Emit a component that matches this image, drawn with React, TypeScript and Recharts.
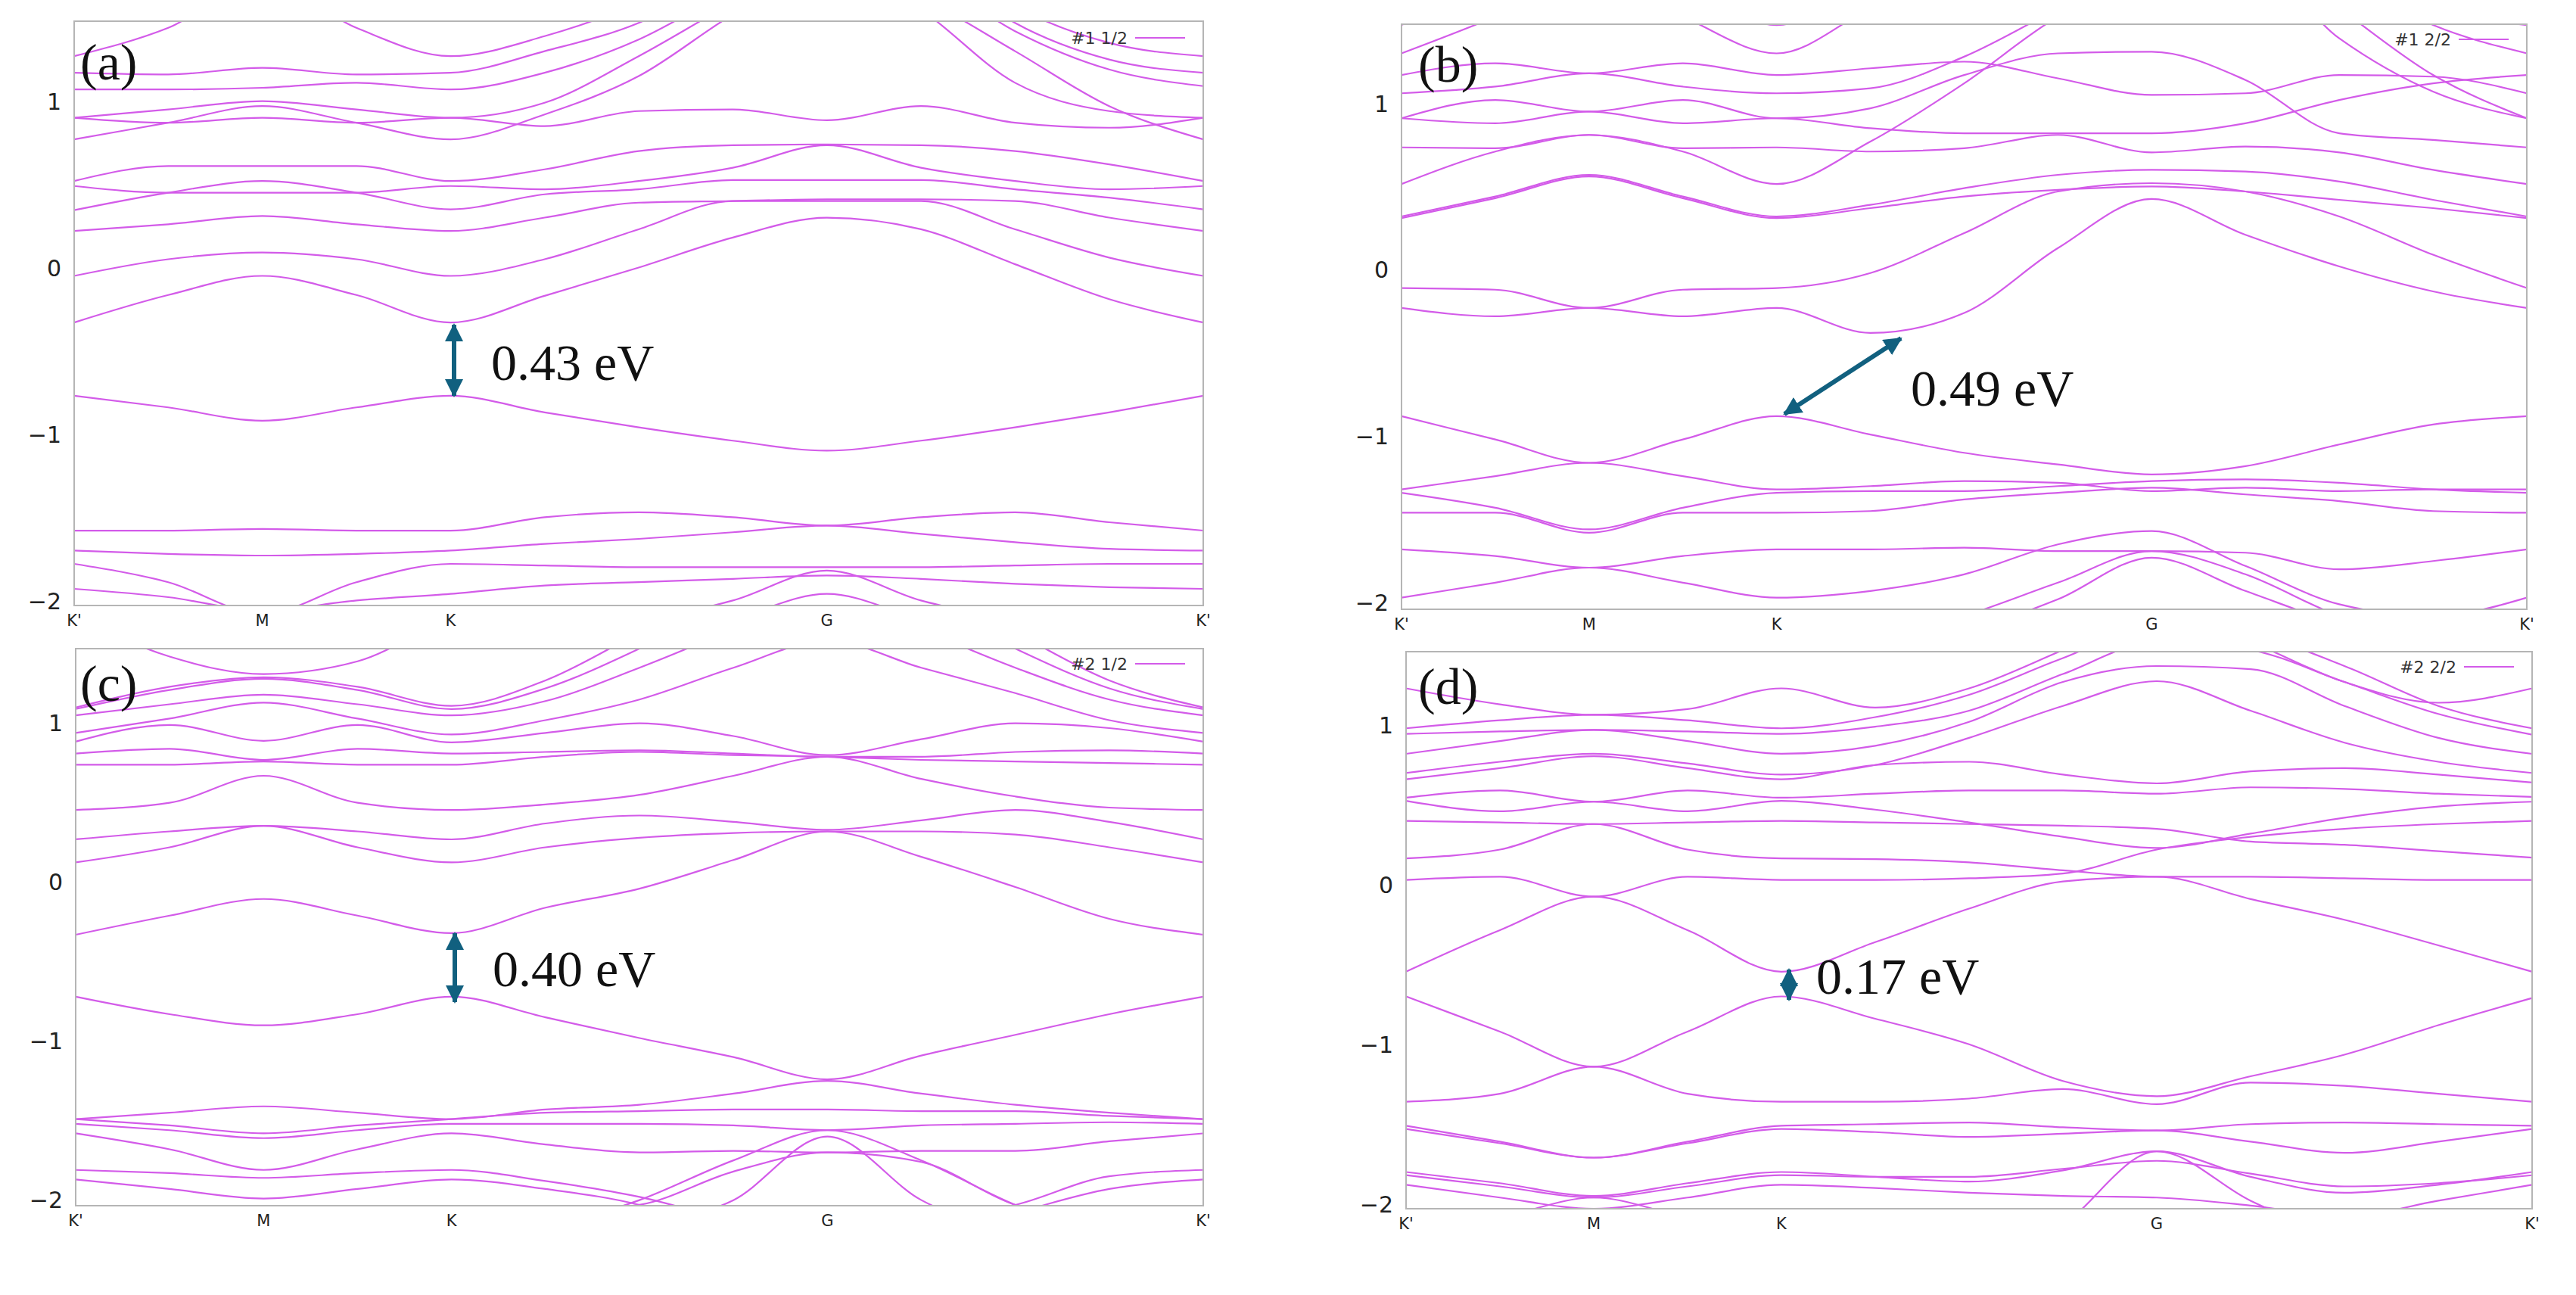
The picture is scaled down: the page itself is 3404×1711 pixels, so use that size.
import { LineChart, Line, XAxis, YAxis } from 'recharts';

// k-path samples: K'=0, M=2, K=4, G=8, K'=12
const kPath = [0, 1, 2, 3, 4, 5, 6, 7, 8, 9, 10, 11, 12];
const kTicks = [0, 2, 4, 8, 12];
const kLabels = ["K'", 'M', 'K', 'G', "K'"];
const eTicks = [-2, -1, 0, 1];

// (a) #1 1/2
const bandsA = [
  [1.30, 1.47, 1.75, 1.47, 1.30, 1.42, 1.62, 1.90, 2.10, 2.00, 1.60, 1.38, 1.30],
  [1.20, 1.19, 1.23, 1.19, 1.20, 1.33, 1.50, 1.80, 2.00, 1.90, 1.50, 1.28, 1.20],
  [1.10, 1.10, 1.11, 1.14, 1.10, 1.20, 1.40, 1.70, 1.95, 1.80, 1.45, 1.22, 1.12],
  [0.93, 0.98, 1.03, 0.98, 0.93, 1.02, 1.30, 1.62, 1.90, 1.58, 1.14, 0.97, 0.93],
  [0.80, 0.90, 1.00, 0.90, 0.80, 0.95, 1.18, 1.55, 1.85, 1.65, 1.33, 1.00, 0.80],
  [0.93, 0.90, 0.93, 0.90, 0.93, 0.88, 0.97, 0.98, 0.915, 1.00, 0.90, 0.87, 0.93],
  [0.55, 0.64, 0.64, 0.64, 0.55, 0.62, 0.73, 0.765, 0.77, 0.765, 0.73, 0.65, 0.55],
  [0.52, 0.48, 0.48, 0.48, 0.52, 0.50, 0.55, 0.63, 0.765, 0.63, 0.55, 0.50, 0.52],
  [0.375, 0.48, 0.55, 0.48, 0.38, 0.47, 0.50, 0.556, 0.556, 0.556, 0.50, 0.45, 0.38],
  [0.25, 0.29, 0.34, 0.29, 0.25, 0.33, 0.42, 0.43, 0.44, 0.44, 0.43, 0.33, 0.25],
  [-0.02, 0.08, 0.12, 0.08, -0.02, 0.08, 0.26, 0.43, 0.43, 0.43, 0.26, 0.09, -0.02],
  [-0.30, -0.135, -0.02, -0.135, -0.30, -0.14, 0.03, 0.21, 0.33, 0.26, 0.05, -0.16, -0.30],
  [-0.74, -0.81, -0.89, -0.81, -0.74, -0.84, -0.93, -1.01, -1.07, -1.01, -0.93, -0.84, -0.74],
  [-1.55, -1.55, -1.54, -1.55, -1.55, -1.47, -1.44, -1.47, -1.52, -1.47, -1.44, -1.50, -1.55],
  [-1.67, -1.69, -1.70, -1.69, -1.67, -1.63, -1.60, -1.56, -1.52, -1.57, -1.62, -1.66, -1.67],
  [-1.75, -1.86, -2.05, -1.86, -1.75, -1.76, -1.77, -1.77, -1.77, -1.77, -1.76, -1.75, -1.75],
  [-1.90, -1.95, -2.03, -1.97, -1.93, -1.88, -1.86, -1.84, -1.82, -1.84, -1.87, -1.89, -1.90],
  [-2.40, -2.40, -2.40, -2.35, -2.30, -2.20, -2.10, -1.97, -1.79, -1.97, -2.10, -2.25, -2.40],
  [-2.50, -2.50, -2.50, -2.45, -2.40, -2.30, -2.20, -2.08, -1.93, -2.08, -2.20, -2.35, -2.50],
];

// (b) #1 2/2
const bandsB = [
  [1.50, 1.75, 2.00, 1.75, 1.50, 1.75, 2.00, 2.20, 2.30, 2.00, 1.60, 1.20, 0.94],
  [1.33, 1.55, 1.80, 1.55, 1.33, 1.60, 1.85, 2.10, 2.20, 2.00, 1.75, 1.58, 1.50],
  [1.20, 1.27, 1.21, 1.27, 1.20, 1.24, 1.28, 1.18, 1.08, 1.09, 1.20, 1.19, 1.09],
  [1.09, 1.13, 1.21, 1.13, 1.09, 1.12, 1.31, 1.60, 1.90, 2.00, 1.80, 1.50, 1.33],
  [0.94, 1.05, 0.98, 1.05, 0.94, 1.00, 1.20, 1.33, 1.34, 1.17, 0.85, 0.81, 0.765],
  [0.94, 0.91, 0.98, 0.91, 0.94, 0.88, 0.85, 0.85, 0.85, 0.91, 1.05, 1.15, 1.20],
  [0.765, 0.76, 0.84, 0.76, 0.765, 0.74, 0.76, 0.84, 0.735, 0.77, 0.735, 0.63, 0.545],
  [0.545, 0.74, 0.84, 0.74, 0.545, 0.80, 1.15, 1.55, 1.80, 1.90, 1.42, 1.10, 0.94],
  [0.35, 0.47, 0.60, 0.47, 0.35, 0.42, 0.52, 0.60, 0.63, 0.62, 0.56, 0.45, 0.35],
  [0.34, 0.46, 0.59, 0.46, 0.34, 0.40, 0.47, 0.51, 0.53, 0.50, 0.45, 0.40, 0.34],
  [-0.08, -0.09, -0.20, -0.09, -0.08, 0.01, 0.25, 0.50, 0.55, 0.50, 0.35, 0.12, -0.08],
  [-0.20, -0.25, -0.20, -0.25, -0.20, -0.35, -0.23, 0.16, 0.455, 0.24, 0.05, -0.10, -0.20],
  [-0.85, -0.99, -1.13, -0.99, -0.85, -0.96, -1.07, -1.14, -1.20, -1.15, -1.02, -0.90, -0.85],
  [-1.29, -1.21, -1.13, -1.21, -1.29, -1.27, -1.24, -1.25, -1.30, -1.28, -1.30, -1.29, -1.29],
  [-1.31, -1.40, -1.53, -1.40, -1.31, -1.30, -1.30, -1.27, -1.24, -1.23, -1.25, -1.29, -1.31],
  [-1.43, -1.43, -1.55, -1.43, -1.43, -1.42, -1.35, -1.31, -1.28, -1.32, -1.36, -1.42, -1.43],
  [-1.65, -1.69, -1.76, -1.69, -1.65, -1.65, -1.64, -1.66, -1.66, -1.67, -1.77, -1.72, -1.65],
  [-1.94, -1.85, -1.76, -1.85, -1.94, -1.90, -1.80, -1.62, -1.54, -1.75, -1.98, -2.05, -1.94],
  [-2.40, -2.40, -2.30, -2.30, -2.30, -2.20, -2.05, -1.85, -1.66, -1.80, -2.05, -2.20, -2.40],
  [-2.50, -2.50, -2.40, -2.40, -2.40, -2.30, -2.15, -1.95, -1.70, -1.90, -2.10, -2.25, -2.50],
];

// (c) #2 1/2
const bandsC = [
  [1.70, 1.45, 1.34, 1.42, 1.70, 1.90, 2.10, 2.20, 2.30, 2.20, 2.00, 1.80, 1.70],
  [1.13, 1.26, 1.32, 1.26, 1.14, 1.30, 1.60, 1.90, 2.10, 1.90, 1.60, 1.30, 1.13],
  [1.12, 1.24, 1.31, 1.24, 1.12, 1.25, 1.50, 1.80, 2.00, 1.80, 1.50, 1.25, 1.12],
  [1.08, 1.15, 1.21, 1.15, 1.08, 1.17, 1.38, 1.62, 1.85, 1.62, 1.38, 1.18, 1.08],
  [0.97, 1.06, 1.16, 1.06, 0.96, 1.05, 1.18, 1.38, 1.55, 1.38, 1.22, 1.05, 0.97],
  [0.915, 1.02, 0.92, 1.02, 0.91, 0.97, 1.03, 0.95, 0.83, 0.93, 1.03, 1.00, 0.915],
  [0.84, 0.87, 0.80, 0.87, 0.84, 0.85, 0.86, 0.84, 0.82, 0.82, 0.85, 0.86, 0.84],
  [0.77, 0.77, 0.79, 0.77, 0.77, 0.82, 0.85, 0.83, 0.82, 0.80, 0.79, 0.78, 0.77],
  [0.485, 0.53, 0.70, 0.53, 0.485, 0.52, 0.58, 0.70, 0.82, 0.68, 0.57, 0.50, 0.485],
  [0.30, 0.35, 0.385, 0.35, 0.30, 0.40, 0.45, 0.41, 0.36, 0.42, 0.485, 0.41, 0.30],
  [0.155, 0.25, 0.385, 0.25, 0.155, 0.25, 0.31, 0.34, 0.35, 0.35, 0.33, 0.25, 0.155],
  [-0.30, -0.18, -0.075, -0.18, -0.29, -0.13, -0.01, 0.17, 0.35, 0.19, 0.00, -0.20, -0.30],
  [-0.69, -0.80, -0.87, -0.80, -0.69, -0.82, -0.95, -1.07, -1.21, -1.06, -0.93, -0.80, -0.69],
  [-1.46, -1.42, -1.38, -1.42, -1.46, -1.40, -1.37, -1.30, -1.22, -1.30, -1.37, -1.42, -1.46],
  [-1.46, -1.50, -1.55, -1.50, -1.46, -1.42, -1.41, -1.40, -1.40, -1.41, -1.41, -1.44, -1.46],
  [-1.49, -1.53, -1.58, -1.53, -1.49, -1.49, -1.49, -1.50, -1.53, -1.50, -1.49, -1.48, -1.49],
  [-1.55, -1.65, -1.78, -1.65, -1.55, -1.62, -1.67, -1.66, -1.67, -1.66, -1.66, -1.60, -1.55],
  [-1.78, -1.80, -1.83, -1.80, -1.78, -1.85, -1.95, -2.10, -2.20, -2.10, -2.00, -1.82, -1.78],
  [-1.84, -1.90, -1.96, -1.90, -1.84, -1.90, -2.00, -2.20, -2.30, -2.20, -2.05, -1.90, -1.84],
  [-2.60, -2.60, -2.60, -2.50, -2.40, -2.30, -2.15, -1.97, -1.57, -1.97, -2.20, -2.40, -2.60],
  [-2.50, -2.50, -2.50, -2.40, -2.30, -2.15, -1.97, -1.72, -1.53, -1.72, -2.00, -2.20, -2.40],
  [-2.40, -2.40, -2.40, -2.30, -2.20, -2.05, -2.00, -1.79, -1.67, -1.73, -2.00, -2.10, -2.20],
];

// (d) #2 2/2
const bandsD = [
  [1.26, 1.16, 1.095, 1.13, 1.26, 1.14, 1.26, 1.50, 1.75, 1.55, 1.30, 1.17, 1.26],
  [1.01, 1.06, 1.095, 1.06, 1.01, 1.08, 1.22, 1.45, 1.65, 1.60, 1.40, 1.15, 1.01],
  [0.975, 0.99, 1.00, 0.99, 0.975, 1.02, 1.12, 1.35, 1.55, 1.50, 1.30, 1.10, 0.97],
  [0.85, 0.93, 1.00, 0.93, 0.85, 0.90, 1.05, 1.30, 1.40, 1.38, 1.15, 0.95, 0.85],
  [0.73, 0.80, 0.85, 0.79, 0.72, 0.78, 0.95, 1.15, 1.305, 1.12, 0.92, 0.80, 0.73],
  [0.69, 0.76, 0.835, 0.76, 0.69, 0.78, 0.80, 0.72, 0.665, 0.74, 0.76, 0.72, 0.67],
  [0.575, 0.62, 0.55, 0.62, 0.575, 0.60, 0.62, 0.62, 0.60, 0.64, 0.63, 0.60, 0.58],
  [0.555, 0.49, 0.55, 0.49, 0.555, 0.50, 0.42, 0.33, 0.26, 0.35, 0.45, 0.52, 0.55],
  [0.43, 0.42, 0.41, 0.42, 0.43, 0.42, 0.41, 0.40, 0.38, 0.30, 0.28, 0.24, 0.20],
  [0.195, 0.25, 0.41, 0.25, 0.195, 0.19, 0.17, 0.12, 0.08, 0.08, 0.07, 0.06, 0.06],
  [0.06, 0.08, -0.045, 0.08, 0.06, 0.06, 0.07, 0.10, 0.25, 0.33, 0.38, 0.41, 0.43],
  [-0.515, -0.255, -0.045, -0.255, -0.515, -0.33, -0.12, 0.05, 0.08, -0.06, -0.19, -0.35, -0.515],
  [-0.67, -0.89, -1.11, -0.89, -0.67, -0.81, -0.97, -1.20, -1.295, -1.17, -1.035, -0.85, -0.68],
  [-1.33, -1.28, -1.11, -1.28, -1.33, -1.33, -1.31, -1.25, -1.345, -1.21, -1.23, -1.28, -1.33],
  [-1.48, -1.58, -1.68, -1.58, -1.48, -1.47, -1.46, -1.49, -1.51, -1.47, -1.46, -1.47, -1.48],
  [-1.50, -1.59, -1.68, -1.59, -1.50, -1.52, -1.55, -1.53, -1.51, -1.58, -1.65, -1.58, -1.50],
  [-1.77, -1.84, -1.92, -1.84, -1.77, -1.80, -1.83, -1.76, -1.64, -1.80, -1.90, -1.85, -1.77],
  [-1.79, -1.86, -1.93, -1.86, -1.79, -1.80, -1.80, -1.75, -1.70, -1.78, -1.86, -1.84, -1.79],
  [-1.85, -1.93, -2.00, -1.93, -1.85, -1.87, -1.90, -1.92, -1.93, -1.98, -2.05, -1.95, -1.85],
  [-2.10, -2.05, -1.93, -2.05, -2.10, -2.30, -2.40, -2.10, -1.64, -1.95, -2.20, -2.40, -2.50],
];

const BAND = '#d35be9';
const ARROW = '#11607f';
const SANS = '"DejaVu Sans", Verdana, sans-serif';
const SERIF = '"Liberation Serif", "Times New Roman", serif';
const YW = 80;
const XH = 50;
const RM = 30;

function buildRows(bands: number[][]) {
  return kPath.map((k, i) => {
    const row: any = { k };
    bands.forEach((b, j) => { row['b' + j] = b[i]; });
    return row;
  });
}

const fmtE = (v: number) => (v < 0 ? '\u2212' + Math.abs(v) : String(v));

function Panel({ bands, domain, left, top, w, h }: any) {
  const rows = buildRows(bands);
  return (
    <div style={{ position: 'absolute', left: left - YW, top }}>
      <LineChart width={w + YW + RM} height={h + XH} data={rows} margin={{ top: 0, right: RM, bottom: 0, left: 0 }}>
        <XAxis dataKey="k" type="number" domain={[0, 12]} ticks={kTicks} axisLine={false} tickLine={false} height={XH}
          tick={(p: any) => (
            <text x={p.x} y={h + 20} textAnchor="middle" dominantBaseline="central" fontFamily={SANS} fontSize={21} fill="#222">
              {kLabels[kTicks.indexOf(p.payload.value)]}
            </text>
          )} />
        <YAxis type="number" domain={domain} allowDataOverflow ticks={eTicks} axisLine={false} tickLine={false} width={YW}
          tick={(p: any) => (
            <text x={YW - 17} y={p.y - 6} textAnchor="end" dominantBaseline="central" fontFamily={SANS} fontSize={30} fill="#222">
              {fmtE(p.payload.value)}
            </text>
          )} />
        {bands.map((_: number[], j: number) => (
          <Line key={j} dataKey={'b' + j} type="monotone" stroke={BAND} strokeWidth={2.2} dot={false} isAnimationActive={false} />
        ))}
      </LineChart>
    </div>
  );
}

const panels = [
  { id: '(a)', legend: '#1 1/2', bands: bandsA, domain: [-2.0, 1.51], left: 98, top: 28, w: 1492, h: 772, lx: 106, ly: 105, legY: 50 },
  { id: '(b)', legend: '#1 2/2', bands: bandsB, domain: [-2.01, 1.505], left: 1852, top: 32, w: 1487, h: 773, lx: 1874, ly: 108, legY: 52 },
  { id: '(c)', legend: '#2 1/2', bands: bandsC, domain: [-2.005, 1.5], left: 100, top: 857, w: 1490, h: 736, lx: 106, ly: 926, legY: 877 },
  { id: '(d)', legend: '#2 2/2', bands: bandsD, domain: [-2.0, 1.49], left: 1858, top: 861, w: 1488, h: 736, lx: 1874, ly: 930, legY: 881 },
];

const gaps = [
  { text: '0.43 eV', x1: 600, y1: 429, x2: 600, y2: 523, tx: 649, ty: 502 },
  { text: '0.49 eV', x1: 2358, y1: 547, x2: 2512, y2: 447, tx: 2525, ty: 536 },
  { text: '0.40 eV', x1: 601, y1: 1233, x2: 601, y2: 1324, tx: 651, ty: 1303 },
  { text: '0.17 eV', x1: 2364, y1: 1281, x2: 2364, y2: 1321, tx: 2400, ty: 1313 },
];

export default function App() {
  return (
    <div style={{ position: 'absolute', left: 0, top: 0, width: 3404, height: 1711, background: '#fff', overflow: 'hidden' }}>
      {panels.map((p) => (
        <Panel key={p.id} bands={p.bands} domain={p.domain} left={p.left} top={p.top} w={p.w} h={p.h} />
      ))}
      <svg width={3404} height={1711} style={{ position: 'absolute', left: 0, top: 0, pointerEvents: 'none' }}>
        <defs>
          <marker id="ah" markerUnits="userSpaceOnUse" markerWidth={24} markerHeight={24} refX={22} refY={12} orient="auto-start-reverse">
            <path d="M0,0 L24,12 L0,24 z" fill={ARROW} />
          </marker>
        </defs>
        {panels.map((p) => (
          <g key={p.id}>
            <rect x={p.left} y={p.top} width={p.w} height={p.h} fill="none" stroke="#b5b5b5" strokeWidth={2} />
            <text x={p.lx} y={p.ly} fontFamily={SERIF} fontSize={68} fill="#111">{p.id}</text>
            <text x={p.left + p.w - 100} y={p.legY} textAnchor="end" dominantBaseline="central" fontFamily={SANS} fontSize={22} fill="#333">{p.legend}</text>
            <line x1={p.left + p.w - 90} y1={p.legY} x2={p.left + p.w - 24} y2={p.legY} stroke={BAND} strokeWidth={2.2} />
          </g>
        ))}
        {gaps.map((g) => (
          <g key={g.text}>
            <line x1={g.x1} y1={g.y1} x2={g.x2} y2={g.y2} stroke={ARROW} strokeWidth={6} markerStart="url(#ah)" markerEnd="url(#ah)" />
            <text x={g.tx} y={g.ty} fontFamily={SERIF} fontSize={68} fill="#111">{g.text}</text>
          </g>
        ))}
      </svg>
    </div>
  );
}
